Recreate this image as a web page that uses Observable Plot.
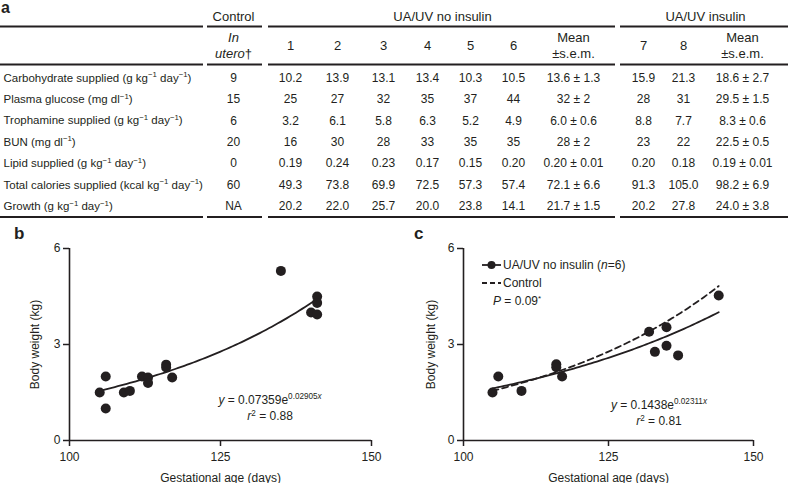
<!DOCTYPE html>
<html>
<head>
<meta charset="utf-8">
<script src="https://cdn.jsdelivr.net/npm/d3@7"></script>
<script src="https://cdn.jsdelivr.net/npm/@observablehq/plot@0.6"></script>
<style>
  html, body { margin: 0; padding: 0; background: #fff; }
  #fig { position: relative; width: 788px; height: 483px; overflow: hidden;
         font-family: "Liberation Sans", Arial, Helvetica, sans-serif; color: #231f20; }
  .lbl { position: absolute; font-weight: bold; line-height: 16px; }
  .note { position: absolute; font-size: 12px; line-height: 14px; white-space: nowrap; }
  .note sup { font-size: 8px; line-height: 0; vertical-align: 4px; }
</style>
</head>
<body>
<div id="fig"></div>
<script>
// ---------------- DATA ----------------
// Table (panel a)
const rowLabels = [
  "Carbohydrate supplied (g kg^{−1} day^{−1})",
  "Plasma glucose (mg dl^{−1})",
  "Trophamine supplied (g kg^{−1} day^{−1})",
  "BUN (mg dl^{−1})",
  "Lipid supplied (g kg^{−1} day^{−1})",
  "Total calories supplied (kcal kg^{−1} day^{−1})",
  "Growth (g kg^{−1} day^{−1})"
];
const groupHeaders = ["Control", "UA/UV no insulin", "UA/UV insulin"];
const subHeaders = ["~{In}\n~{utero}†", "1", "2", "3", "4", "5", "6", "Mean\n±s.e.m.", "7", "8", "Mean\n±s.e.m."];
const controlInUtero = ["9", "15", "6", "20", "0", "60", "NA"];
const animal1 = ["10.2", "25", "3.2", "16", "0.19", "49.3", "20.2"];
const animal2 = ["13.9", "27", "6.1", "30", "0.24", "73.8", "22.0"];
const animal3 = ["13.1", "32", "5.8", "28", "0.23", "69.9", "25.7"];
const animal4 = ["13.4", "35", "6.3", "33", "0.17", "72.5", "20.0"];
const animal5 = ["10.3", "37", "5.2", "35", "0.15", "57.3", "23.8"];
const animal6 = ["10.5", "44", "4.9", "35", "0.20", "57.4", "14.1"];
const meanNoInsulin = ["13.6 ± 1.3", "32 ± 2", "6.0 ± 0.6", "28 ± 2", "0.20 ± 0.01", "72.1 ± 6.6", "21.7 ± 1.5"];
const animal7 = ["15.9", "28", "8.8", "23", "0.20", "91.3", "20.2"];
const animal8 = ["21.3", "31", "7.7", "22", "0.18", "105.0", "27.8"];
const meanInsulin = ["18.6 ± 2.7", "29.5 ± 1.5", "8.3 ± 0.6", "22.5 ± 0.5", "0.19 ± 0.01", "98.2 ± 6.9", "24.0 ± 3.8"];

// Panel b: all fetuses (body weight vs gestational age)
const ageB    = [105, 106, 106, 109, 110, 112, 113, 113, 116, 116, 117, 135, 140, 141, 141, 141];
const weightB = [1.5, 2.0, 1.0, 1.5, 1.55, 2.0, 1.97, 1.8, 2.37, 2.28, 1.97, 5.3, 4.0, 4.5, 4.3, 3.94];
// Panel c: UA/UV no insulin (n=6)
const ageC    = [105, 106, 110, 116, 116, 117, 132, 133, 135, 135, 137, 144];
const weightC = [1.5, 2.0, 1.55, 2.38, 2.29, 2.0, 3.4, 2.77, 3.54, 2.96, 2.66, 4.53];

// Exponential fits stated on the chart: y = a * e^(k x)
const fitB       = {a: 0.07359, k: 0.02905, from: 105, to: 141};
const fitC       = {a: 0.1438,  k: 0.02311, from: 105, to: 144};
const fitControl = {a: 0.07359, k: 0.02905, from: 105, to: 144};

const xTicks = [100, 125, 150];
const yTicks = [0, 3, 6];
const xLabel = "Gestational age (days)";
const yLabel = "Body weight (kg)";
const eqB = ["~{y} = 0.07359e^{0.02905}@{x}", "~{r}^{2} = 0.88"];
const eqC = ["~{y} = 0.1438e^{0.02311}@{x}", "~{r}^{2} = 0.81"];
const legendC = ["UA/UV no insulin (<i>n</i>=6)", "Control", "<i>P</i> = 0.09<sup>*</sup>"];

// ---------------- LAYOUT ----------------
const FONT = '"Liberation Sans", Arial, Helvetica, sans-serif';
const INK = "#231f20";
const fig = document.getElementById("fig");
const COL_X = [233, 290, 337, 383, 427, 470, 513, 573, 643, 683, 742];
const GROUP_X = [233, 442, 705];
const ROW_Y0 = 77.5, ROW_DY = 21.4;
const HEAD_Y1 = 16, HEAD_TWO = [37.5, 53.5], HEAD_ONE = 45.5;
const RULE_YS = [26, 64, 216.5];
const RULE_SEGS = [[0, 203], [207, 262], [268, 615], [620, 788]];

// rich text: ~{italic}  ^{superscript}  @{italic superscript}
function rich(root) {
  d3.select(root).selectAll("text").each(function () {
    const t = this.textContent;
    if (!/[~^@]\{/.test(t)) return;
    const parts = [];
    const re = /([~^@])\{([^}]*)\}/g;
    let last = 0, m;
    while ((m = re.exec(t))) {
      if (m.index > last) parts.push({s: t.slice(last, m.index)});
      parts.push({s: m[2], k: m[1]});
      last = re.lastIndex;
    }
    if (last < t.length) parts.push({s: t.slice(last)});
    const el = d3.select(this);
    el.text(null);
    let up = false;
    for (const p of parts) {
      const sup = p.k === "^" || p.k === "@";
      const ts = el.append("tspan").text(p.s);
      if (sup && !up) { ts.attr("dy", -4.5); up = true; }
      else if (!sup && up) { ts.attr("dy", 4.5); up = false; }
      if (sup) ts.attr("font-size", "0.68em");
      if (p.k === "~" || p.k === "@") ts.attr("font-style", "italic");
    }
  });
}

function place(node, left, top) {
  node.style.position = "absolute";
  node.style.left = left + "px";
  node.style.top = top + "px";
  fig.appendChild(node);
  return node;
}

// ---------------- TABLE (a) ----------------
const tableColumns = [controlInUtero, animal1, animal2, animal3, animal4, animal5, animal6, meanNoInsulin, animal7, animal8, meanInsulin];
const cells = tableColumns.flatMap((col, j) => col.map((v, i) => ({j, i, v})));
const subItems = subHeaders.flatMap((h, j) => {
  const lines = h.split("\n");
  return lines.length === 1 ? [{j, y: HEAD_ONE, t: h}] : lines.map((t, k) => ({j, y: HEAD_TWO[k], t}));
});
const rules = RULE_YS.flatMap(y => RULE_SEGS.map(([x1, x2]) => ({y, x1, x2})));

const table = Plot.plot({
  width: 788, height: 222, margin: 0,
  x: {type: "identity", axis: null}, y: {type: "identity", axis: null},
  style: {fontFamily: FONT, fontSize: "11.5px", color: INK, background: "none"},
  marks: [
    Plot.ruleY(rules, {y: "y", x1: "x1", x2: "x2", stroke: INK, strokeWidth: 1.8}),
    Plot.text(groupHeaders, {x: (d, i) => GROUP_X[i], y: HEAD_Y1, text: d => d, fontSize: 13, fill: INK}),
    Plot.text(subItems, {x: d => COL_X[d.j], y: "y", text: "t", fontSize: 13, fill: INK}),
    Plot.text(rowLabels, {x: 3, y: (d, i) => ROW_Y0 + i * ROW_DY, text: d => d, textAnchor: "start", fill: INK}),
    Plot.text(cells, {x: d => COL_X[d.j], y: d => ROW_Y0 + d.i * ROW_DY, text: "v", fontSize: 12, fill: INK})
  ]
});
rich(table);
place(table, 0, 0);

// ---------------- SCATTER PANELS (b, c) ----------------
const curve = f => d3.range(f.from, f.to + 1e-9, 0.5).map(x => ({x, y: f.a * Math.exp(f.k * x)}));

function panel({ages, weights, fits, width, marginLeft, marginRight, labelOffsetY, notes, noteX, noteY}) {
  const pts = ages.map((a, i) => ({age: a, weight: weights[i]}));
  return Plot.plot({
    width, height: 253, marginLeft, marginRight, marginTop: 18, marginBottom: 43,
    x: {domain: [100, 150]},
    y: {domain: [0, 6]},
    style: {fontFamily: FONT, fontSize: "12px", color: INK, background: "none", overflow: "visible"},
    marks: [
      Plot.axisX({ticks: xTicks, tickSize: 6, tickPadding: 6, strokeWidth: 1.5, tickFormat: d => String(d),
                  label: xLabel, labelAnchor: "center", labelOffset: 41, labelArrow: "none"}),
      Plot.axisY({ticks: yTicks, tickSize: 6, tickPadding: 3, strokeWidth: 1.5, tickFormat: d => String(d),
                  label: yLabel, labelAnchor: "center", labelOffset: labelOffsetY, labelArrow: "none"}),
      Plot.ruleX([100], {stroke: INK, strokeWidth: 1.6}),
      Plot.ruleY([0], {stroke: INK, strokeWidth: 1.6}),
      ...fits.map(f => Plot.line(curve(f), {x: "x", y: "y", stroke: INK, strokeWidth: 1.8,
                                             strokeDasharray: f.dashed ? "6,4" : undefined})),
      Plot.dot(pts, {x: "age", y: "weight", r: 5, fill: INK, stroke: "none"}),
      Plot.text(notes, {x: noteX, y: (d, i) => noteY[i], text: d => d, fill: INK})
    ]
  });
}

const pb = panel({ages: ageB, weights: weightB, fits: [fitB], width: 390, marginLeft: 69, marginRight: 19,
                  labelOffsetY: 39, notes: eqB, noteX: 133.2, noteY: [1.27, 0.76]});
rich(pb);
place(pb, 0, 230);

const pc = panel({ages: ageC, weights: weightC, fits: [{...fitControl, dashed: true}, fitC], width: 398,
                  marginLeft: 73, marginRight: 35, labelOffsetY: 37, notes: eqC, noteX: 133.7, noteY: [1.12, 0.6]});
rich(pc);
place(pc, 390, 230);

// ---------------- legend for c ----------------
const sw = d3.create("svg").attr("width", 24).attr("height", 30);
sw.append("line").attr("x1", 1).attr("x2", 20).attr("y1", 6).attr("y2", 6).attr("stroke", INK).attr("stroke-width", 1.8);
sw.append("circle").attr("cx", 10.5).attr("cy", 6).attr("r", 4).attr("fill", INK);
sw.append("line").attr("x1", 1).attr("x2", 20).attr("y1", 24).attr("y2", 24).attr("stroke", INK)
  .attr("stroke-width", 1.8).attr("stroke-dasharray", "5,3");
place(sw.node(), 481, 259);

const legendTops = [258, 276, 294];
const legendLefts = [503, 503, 493];
legendC.forEach((h, i) => {
  const d = document.createElement("div");
  d.className = "note";
  d.innerHTML = h;
  place(d, legendLefts[i], legendTops[i]);
});

// ---------------- panel letters ----------------
[["a", 1, 0, 16], ["b", 14, 226, 17], ["c", 414, 226, 17]].forEach(([t, x, y, s]) => {
  const d = document.createElement("div");
  d.className = "lbl";
  d.style.fontSize = s + "px";
  d.textContent = t;
  place(d, x, y);
});
</script>
</body>
</html>
